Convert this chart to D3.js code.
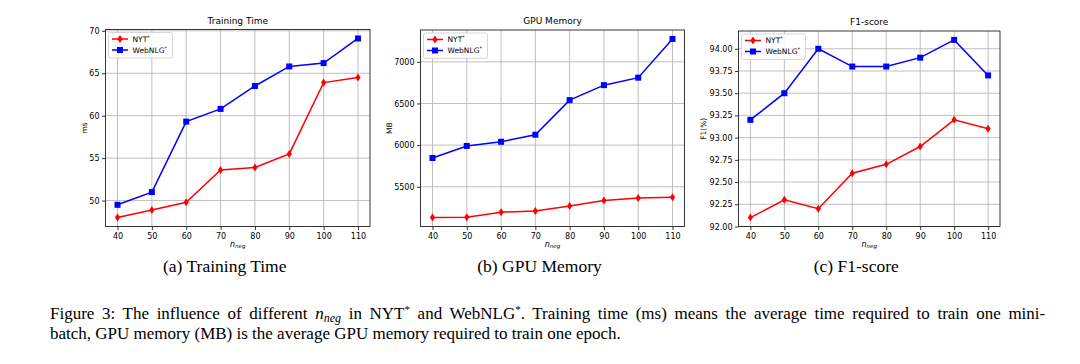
<!DOCTYPE html>
<html>
<head>
<meta charset="utf-8">
<script src="https://cdn.jsdelivr.net/npm/d3@7"></script>
<style>
  body { margin: 0; background: #fff; }
  svg { display: block; }
  .tick text { font-family: "DejaVu Sans", sans-serif; font-size: 8px; fill: #000; }
  .tick line { stroke: #000; stroke-width: 0.8; }
  .domain { display: none; }
</style>
</head>
<body>
<svg id="fig" width="1080" height="364"></svg>
<script>
// n_neg values
const nNeg = [40, 50, 60, 70, 80, 90, 100, 110]

// training time (ms)
const timeNYT = [48.0, 48.9, 49.8, 53.6, 53.9, 55.5, 63.9, 64.5]
const timeWeb = [49.5, 51.0, 59.3, 60.8, 63.5, 65.8, 66.2, 69.1]

// gpu memory (MB)
const memNYT = [5130, 5135, 5195, 5210, 5270, 5335, 5365, 5375]
const memWeb = [5845, 5990, 6040, 6125, 6540, 6720, 6810, 7275]

// F1 (%)
const f1NYT = [92.1, 92.3, 92.2, 92.6, 92.7, 92.9, 93.2, 93.1]
const f1Web = [93.2, 93.5, 94.0, 93.8, 93.8, 93.9, 94.1, 93.7]

const timeTicks = [50, 55, 60, 65, 70]
const memTicks = [5500, 6000, 6500, 7000]
const f1Ticks = [92.0, 92.25, 92.5, 92.75, 93.0, 93.25, 93.5, 93.75, 94.0]

const seriesNames = ['NYT', 'WebNLG']
const subCaptions = ['(a) Training Time', '(b) GPU Memory', '(c) F1-score']

const svg = d3.select('#fig')
svg.append('rect').attr('width', 1080).attr('height', 364).attr('fill', '#fff')

const panels = [
  { title: 'Training Time', ylabel: 'ms', nyt: timeNYT, web: timeWeb, ticks: timeTicks, fmt: d3.format('d'),
    box: { l: 105.5, r: 370, t: 29.5, b: 226.5 }, labelX: 87 },
  { title: 'GPU Memory', ylabel: 'MB', nyt: memNYT, web: memWeb, ticks: memTicks, fmt: d3.format('d'),
    box: { l: 420.5, r: 684.5, t: 30, b: 226.5 }, labelX: 392 },
  { title: 'F1-score', ylabel: 'F1(%)', nyt: f1NYT, web: f1Web, ticks: f1Ticks, fmt: d3.format('.2f'),
    box: { l: 738.5, r: 1000, t: 31, b: 226.5 }, labelX: 706 },
]

function padDomain(vals) {
  const [lo, hi] = d3.extent(vals)
  const m = (hi - lo) * 0.05
  return [lo - m, hi + m]
}

// thin diamond like matplotlib 'd'
const diamondPath = (x, y) => `M${x},${y - 4}L${x + 2.6},${y}L${x},${y + 4}L${x - 2.6},${y}Z`

function drawMarker(g, kind, x, y, color) {
  if (kind === 'd') {
    g.append('path').attr('d', diamondPath(x, y)).attr('fill', color)
  } else {
    g.append('rect').attr('x', x - 3).attr('y', y - 3).attr('width', 6).attr('height', 6).attr('fill', color)
  }
}

panels.forEach((p, pi) => {
  const { l, r, t, b } = p.box
  const g = svg.append('g')

  const x = d3.scaleLinear().domain([36.5, 113.5]).range([l, r])
  const y = d3.scaleLinear().domain(padDomain(p.nyt.concat(p.web))).range([b, t])

  // grid
  g.append('g').selectAll('line.vg').data(nNeg).join('line')
    .attr('x1', d => x(d)).attr('x2', d => x(d)).attr('y1', t).attr('y2', b)
    .attr('stroke', '#b0b0b0').attr('stroke-width', 0.8)
  g.append('g').selectAll('line.hg').data(p.ticks).join('line')
    .attr('x1', l).attr('x2', r).attr('y1', d => y(d)).attr('y2', d => y(d))
    .attr('stroke', '#b0b0b0').attr('stroke-width', 0.8)

  // axes
  g.append('g').attr('transform', `translate(0,${b})`)
    .call(d3.axisBottom(x).tickValues(nNeg).tickSize(3.5).tickPadding(3).tickFormat(d3.format('d')))
  g.append('g').attr('transform', `translate(${l},0)`)
    .call(d3.axisLeft(y).tickValues(p.ticks).tickSize(3.5).tickPadding(2.5).tickFormat(p.fmt))

  // lines
  const line = vals => d3.line().x((d, i) => x(nNeg[i])).y(d => y(d))(vals)
  const series = [
    { vals: p.nyt, color: '#ff0000', marker: 'd' },
    { vals: p.web, color: '#0000ff', marker: 's' },
  ]
  series.forEach(s => {
    g.append('path').attr('d', line(s.vals)).attr('fill', 'none')
      .attr('stroke', s.color).attr('stroke-width', 1.5)
    const mg = g.append('g')
    s.vals.forEach((v, i) => drawMarker(mg, s.marker, x(nNeg[i]), y(v), s.color))
  })

  // frame
  g.append('rect').attr('x', l).attr('y', t).attr('width', r - l).attr('height', b - t)
    .attr('fill', 'none').attr('stroke', '#222').attr('stroke-width', 0.9)

  // title
  g.append('text').attr('x', (l + r) / 2).attr('y', t - 6).attr('text-anchor', 'middle')
    .attr('font-family', 'DejaVu Sans, sans-serif').attr('font-size', 9).text(p.title)

  // x label n_neg
  const xl = g.append('text').attr('x', (l + r) / 2).attr('y', b + 20).attr('text-anchor', 'middle')
    .attr('font-family', 'DejaVu Sans, sans-serif').attr('font-size', 8).attr('font-style', 'italic')
  xl.append('tspan').text('n')
  xl.append('tspan').attr('font-size', 5.5).attr('dy', 1.8).text('neg')

  // y label
  g.append('text').attr('transform', `translate(${p.labelX},${(t + b) / 2}) rotate(-90)`)
    .attr('text-anchor', 'middle').attr('font-family', 'DejaVu Sans, sans-serif').attr('font-size', 7.5)
    .text(p.ylabel)

  // legend
  const lg = g.append('g').attr('transform', `translate(${l + 3},${t + 3})`)
  lg.append('rect').attr('width', 64).attr('height', 25.5).attr('rx', 2)
    .attr('fill', '#fff').attr('fill-opacity', 0.85).attr('stroke', '#cccccc').attr('stroke-width', 0.8)
  series.forEach((s, i) => {
    const yy = 6.5 + i * 11
    lg.append('line').attr('x1', 3.5).attr('x2', 19.5).attr('y1', yy).attr('y2', yy)
      .attr('stroke', s.color).attr('stroke-width', 1.5)
    drawMarker(lg, s.marker, 11.5, yy, s.color)
    const tx = lg.append('text').attr('x', 24).attr('y', yy + 2.8)
      .attr('font-family', 'DejaVu Sans, sans-serif').attr('font-size', 7.5)
    tx.append('tspan').text(seriesNames[i])
    tx.append('tspan').attr('font-size', 5).attr('dy', -3).text('*')
  })

  // sub caption
  svg.append('text').attr('x', (l + r) / 2 - 13).attr('y', 272).attr('text-anchor', 'middle')
    .attr('font-family', 'Liberation Serif, Times New Roman, serif').attr('font-size', 17.5)
    .text(subCaptions[pi])
})

// figure caption (two lines, first one justified)
const capFont = 'Liberation Serif, Times New Roman, serif'
const capSize = 17
const cap1 = svg.append('text').attr('x', 50).attr('y', 319)
  .attr('font-family', capFont).attr('font-size', capSize)
cap1.append('tspan').text('Figure 3:  The influence of different ')
cap1.append('tspan').attr('font-style', 'italic').text('n')
cap1.append('tspan').attr('font-style', 'italic').attr('font-size', 12).attr('dy', 3).text('neg')
cap1.append('tspan').attr('dy', -3).text(' in NYT')
cap1.append('tspan').attr('font-size', 11).attr('dy', -6).text('*')
cap1.append('tspan').attr('dy', 6).text(' and WebNLG')
cap1.append('tspan').attr('font-size', 11).attr('dy', -6).text('*')
cap1.append('tspan').attr('dy', 6).text('.  Training time (ms) means the average time required to train one mini-')

const targetW = 1052 - 50
const w1 = cap1.node().getComputedTextLength()
const nSpaces = cap1.text().split(' ').length - 1
cap1.attr('word-spacing', (targetW - w1) / nSpaces)

svg.append('text').attr('x', 50).attr('y', 339)
  .attr('font-family', capFont).attr('font-size', capSize)
  .text('batch, GPU memory (MB) is the average GPU memory required to train one epoch.')
</script>
</body>
</html>
